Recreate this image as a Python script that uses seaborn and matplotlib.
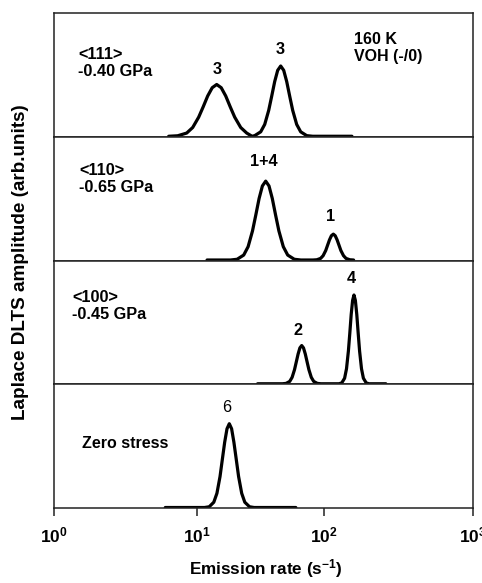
import numpy as np
import pandas as pd
import matplotlib
matplotlib.use("Agg")
import matplotlib.pyplot as plt
import seaborn as sns
from matplotlib.ticker import FixedLocator, NullLocator, FixedFormatter

# ---------------- data ----------------
# <111>, -0.40 GPa
rate_111 = [6.34, 7.33, 8.47, 9.33, 10.31, 11.19, 12.14, 13.18, 14.29, 15.51, 16.83,
            18.26, 19.81, 22.09, 24.62, 27.11,
            28.47, 31.74, 34.13, 36.69, 38.74, 40.91, 43.19, 45.61, 48.16, 50.85,
            53.70, 56.70, 60.95, 65.54, 73.09, 81.47, 154.0]
amp_111 = [0.0, 0.004, 0.026, 0.071, 0.155, 0.239, 0.327, 0.394, 0.42, 0.394, 0.327,
           0.239, 0.155, 0.071, 0.026, 0.0,
           0.005, 0.036, 0.096, 0.210, 0.325, 0.444, 0.535, 0.57, 0.535, 0.444,
           0.325, 0.210, 0.096, 0.036, 0.005, 0.0, 0.0]

# <110>, -0.65 GPa
rate_110 = [12.0, 18.36, 20.69, 23.32, 25.26, 27.35, 29.04, 30.83, 32.73, 34.75, 36.89,
            39.16, 41.57, 44.14, 47.81, 51.79, 58.36, 65.79,
            81.9, 87.8, 94.0, 98.4, 102.7, 105.7, 108.9, 112.1, 115.5, 118.9,
            122.4, 126.1, 129.8, 135.2, 140.5, 149.0, 158.0]
amp_110 = [0.0, 0.0, 0.006, 0.040, 0.108, 0.236, 0.365, 0.499, 0.601, 0.64, 0.601,
           0.499, 0.365, 0.236, 0.108, 0.040, 0.006, 0.0,
           0.0, 0.002, 0.013, 0.035, 0.077, 0.120, 0.164, 0.197, 0.21, 0.197,
           0.164, 0.120, 0.077, 0.035, 0.013, 0.002, 0.0]

# <100>, -0.45 GPa
rate_100 = [30.0, 47.12, 50.30, 53.70, 56.09, 58.58, 60.51, 62.52, 64.59, 66.74, 68.96,
            71.25, 73.62, 76.06, 79.43, 82.97, 88.58, 94.54,
            126.1, 131.6, 137.5, 141.6, 145.8, 149.0, 152.2, 155.6, 158.9, 162.4,
            166.0, 169.6, 173.3, 178.5, 183.8, 192.0, 200.5, 260.0]
amp_100 = [0.0, 0.0, 0.003, 0.019, 0.052, 0.114, 0.177, 0.241, 0.291, 0.31, 0.291,
           0.241, 0.177, 0.114, 0.052, 0.019, 0.003, 0.0,
           0.0, 0.007, 0.045, 0.122, 0.266, 0.410, 0.561, 0.676, 0.72, 0.676,
           0.561, 0.410, 0.266, 0.122, 0.045, 0.007, 0.0, 0.0]

# Zero stress
rate_0 = [6.0, 11.46, 12.48, 13.56, 14.35, 15.18, 15.82, 16.52, 17.23, 17.96, 18.73,
          19.52, 20.39, 21.26, 22.49, 23.79, 25.91, 28.16, 60.0]
amp_0 = [0.0, 0.0, 0.006, 0.043, 0.115, 0.251, 0.388, 0.530, 0.639, 0.68, 0.639,
         0.530, 0.388, 0.251, 0.115, 0.043, 0.006, 0.0, 0.0]

panel_names = ["<111>\n-0.40 GPa", "<110>\n-0.65 GPa", "<100>\n-0.45 GPa", "Zero stress"]
peak_labels = [[("3", 14.3), ("3", 45.0)],
               [("1+4", 33.5), ("1", 110.0)],
               [("2", 62.0), ("4", 152.0)],
               [("6", 17.0)]]
tick_values = [1, 10, 100, 1000]
tick_labels = [r"$\mathbf{10^{0}}$", r"$\mathbf{10^{1}}$", r"$\mathbf{10^{2}}$", r"$\mathbf{10^{3}}$"]

# ---------------- style ----------------
sns.set_style("white")
plt.rcParams["font.family"] = ["Liberation Sans", "DejaVu Sans"]
plt.rcParams["mathtext.fontset"] = "custom"
plt.rcParams["mathtext.rm"] = "Liberation Sans"
plt.rcParams["mathtext.bf"] = "Liberation Sans:bold"
plt.rcParams["mathtext.it"] = "Liberation Sans:italic"
plt.rcParams["text.color"] = "black"
plt.rcParams["axes.labelcolor"] = "black"
plt.rcParams["xtick.color"] = "black"
plt.rcParams["xtick.labelcolor"] = "black"

W, H = 482, 583
fig = plt.figure(figsize=(W / 100, H / 100), dpi=100)
gs = fig.add_gridspec(4, 1, left=54 / W, right=473 / W, top=1 - 13 / H, bottom=1 - 508 / H, hspace=0)

# scanned axis has slightly uneven decades -> piecewise log scale
DEC = [0.0, 1.0, 2.0, 3.0]
POS = [0.0, 143.0, 270.0, 419.0]


def fwd(x):
    lx = np.log10(np.clip(np.asarray(x, dtype=float), 1e-6, None))
    return np.interp(lx, DEC, POS)


def inv(p):
    return 10 ** np.interp(np.asarray(p, dtype=float), POS, DEC)


TXT = 11.7
datasets = [(rate_111, amp_111), (rate_110, amp_110), (rate_100, amp_100), (rate_0, amp_0)]
label_y = [[0.545, 0.70], [0.80, 0.352], [0.435, 0.855], [0.813]]
axes = []
for i, (r, a) in enumerate(datasets):
    ax = fig.add_subplot(gs[i])
    axes.append(ax)
    df = pd.DataFrame({"rate": r, "amp": a})
    ax.set_xscale("function", functions=(fwd, inv))
    sns.lineplot(data=df, x="rate", y="amp", ax=ax, color="black", linewidth=2.3,
                 sort=False, estimator=None)
    ax.set_xlim(1, 1000)
    ax.set_ylim(-0.004, 1.0)
    ax.set_yticks([])
    ax.set_ylabel("")
    ax.set_xlabel("")
    for s in ax.spines.values():
        s.set_linewidth(1.1)
        s.set_color("#222222")
    ax.xaxis.set_major_locator(FixedLocator(tick_values))
    ax.xaxis.set_minor_locator(NullLocator())
    if i < 3:
        ax.tick_params(axis="x", bottom=False, labelbottom=False)
    else:
        ax.xaxis.set_major_formatter(FixedFormatter(tick_labels))
        ax.tick_params(axis="x", bottom=True, direction="out", length=5.5, width=1.1,
                       color="#222222", pad=7, labelsize=12.5, labelcolor="black")

    # peak labels
    for (txt, xv), yv in zip(peak_labels[i], label_y[i]):
        ax.text(xv, yv, txt, ha="center", va="center", fontsize=TXT,
                fontweight="normal" if txt == "6" else "bold")

# panel annotations
axes[0].text(0.057, 0.593, panel_names[0], transform=axes[0].transAxes, ha="left", va="center",
             fontsize=TXT, fontweight="bold", linespacing=1.15)
axes[0].text(0.716, 0.72, "160 K\nVOH (-/0)", transform=axes[0].transAxes, ha="left", va="center",
             fontsize=TXT - 0.2, fontweight="bold", linespacing=1.15)
axes[1].text(0.06, 0.656, panel_names[1], transform=axes[1].transAxes, ha="left", va="center",
             fontsize=TXT, fontweight="bold", linespacing=1.15)
axes[2].text(0.043, 0.633, panel_names[2], transform=axes[2].transAxes, ha="left", va="center",
             fontsize=TXT, fontweight="bold", linespacing=1.15)
axes[3].text(0.067, 0.52, panel_names[3], transform=axes[3].transAxes, ha="left", va="center",
             fontsize=TXT - 0.2, fontweight="bold")

fig.text(266 / W, 1 - 569 / H, r"Emission rate (s$^{\mathbf{-1}}$)", ha="center", va="center",
         fontsize=12.3, fontweight="bold")
fig.text(21 / W, 1 - 262 / H, "Laplace DLTS amplitude (arb.units)", ha="center", va="center",
         rotation=90, fontsize=13.6, fontweight="bold")

fig.savefig("out.png", dpi=100, facecolor="white")
